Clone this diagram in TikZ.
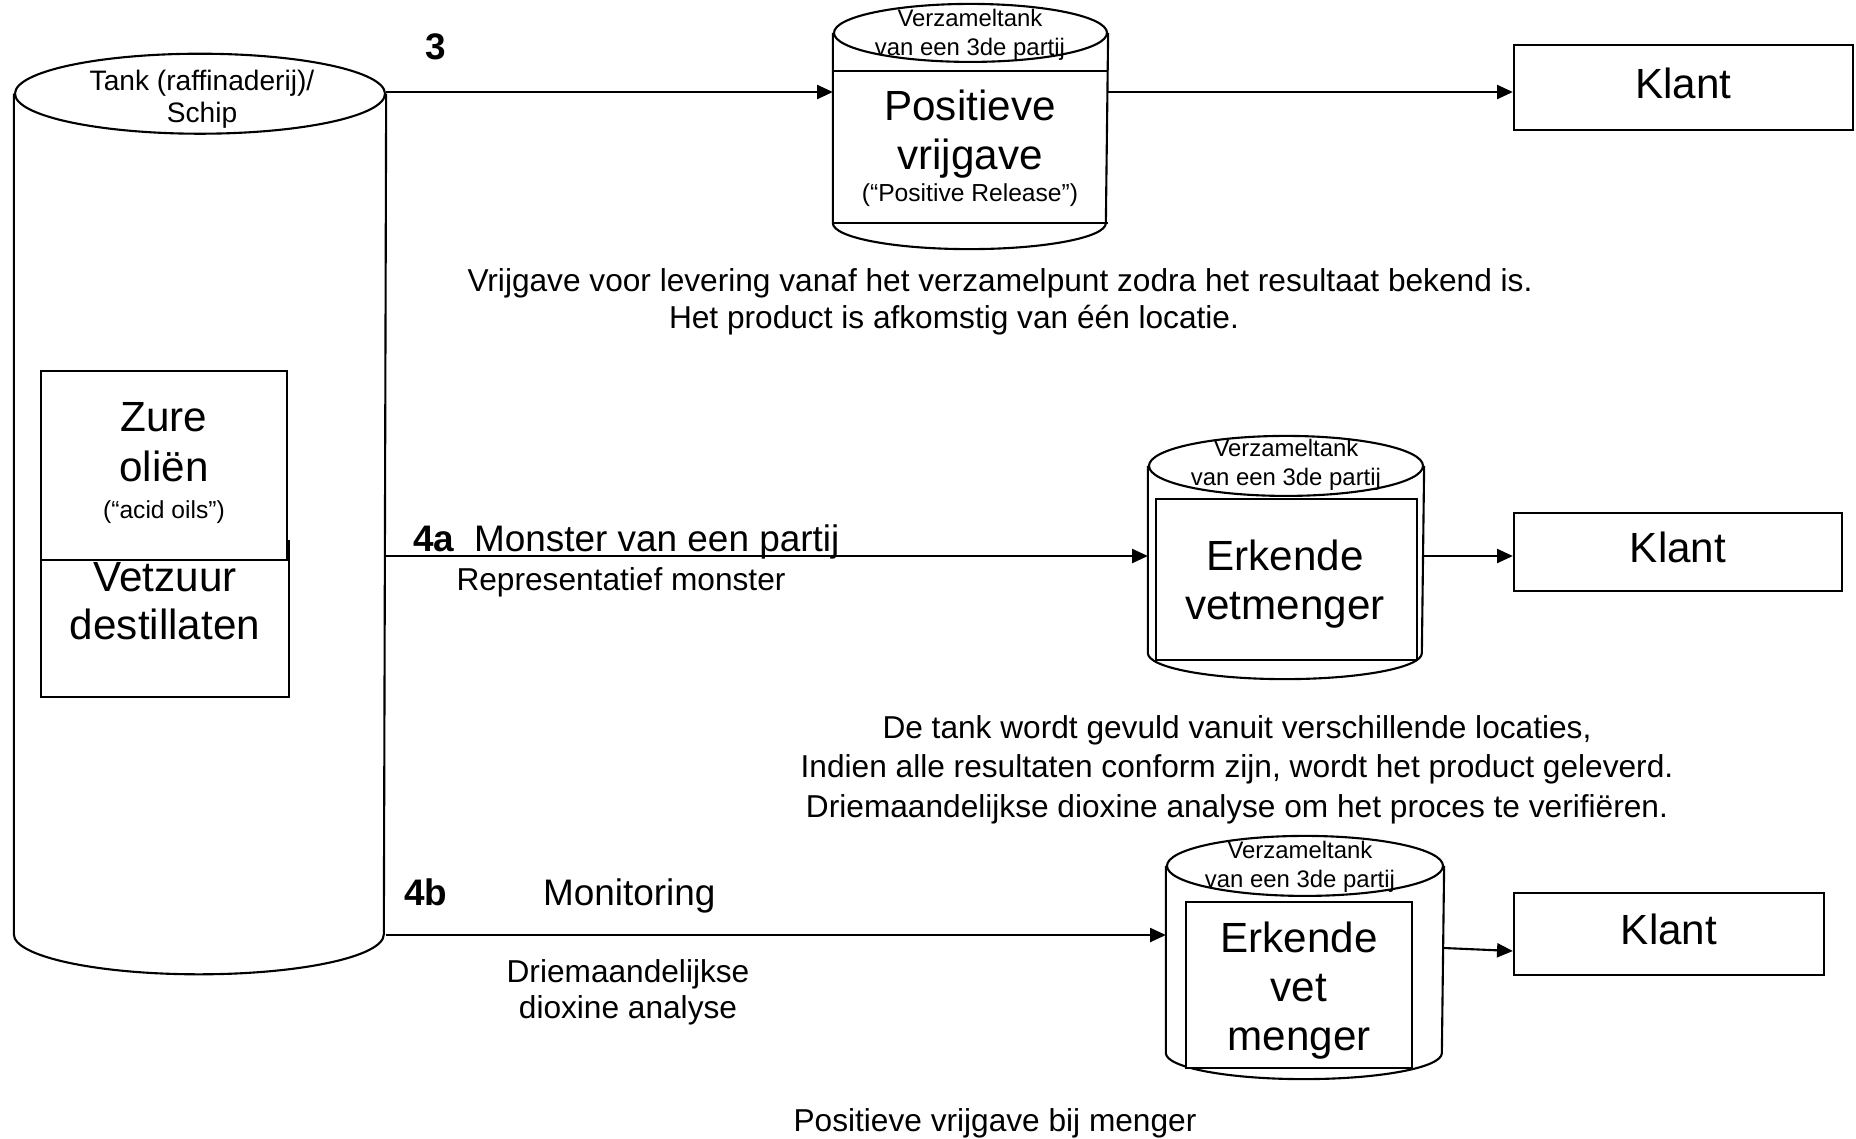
\documentclass[tikz,border=0pt]{standalone}
\usepackage{fontspec}
\setmainfont{Liberation Sans}
\usetikzlibrary{arrows.meta}

\tikzset{
  txt/.style={font=\fontsize{9}{10.5}\selectfont, inner sep=0pt, align=center},
  lidtxt/.style={font=\fontsize{6.8}{8}\selectfont, inner sep=0pt, align=center},
  bigtxt/.style={font=\fontsize{12}{13.8}\selectfont, inner sep=0pt, align=center},
  numtxt/.style={font=\fontsize{10.5}{12}\selectfont\bfseries, inner sep=0pt},
  klantbox/.style={draw, inner sep=0pt, text depth=2.7pt, font=\fontsize{12}{14}\selectfont},
  body/.style={inner sep=0pt},
  inbox/.style={draw, fill=white, inner sep=0pt},
}

\begin{document}
\begin{tikzpicture}[x=0.01cm, y=-0.01cm, line width=0.6pt, >={Triangle[length=4.5pt, width=4pt]}]
  \useasboundingbox (0,0) rectangle (1856,1138);

  % tank raffinaderij / schip
  \node[body, minimum width=3.7cm, minimum height=8.38cm] (tank) at (200,514) {};
  \draw (tank.north west) -- (tank.south west) arc[start angle=180, end angle=0, x radius=185, y radius=40] -- (tank.north east);
  \draw (tank.north) ellipse [x radius=185, y radius=40];
  \node[txt, font=\fontsize{8}{9.1}\selectfont, anchor=base] (tanklbl) at (202,122) {Tank (raffinaderij)/\\Schip};

  \node[inbox, minimum width=2.48cm, minimum height=1.56cm] (vetzuur) at (165,619) {};
  \node[bigtxt, font=\fontsize{12}{13.5}\selectfont, anchor=base] (vetzuurlbl) at (165,639) {Vetzuur\\destillaten};
  \node[inbox, minimum width=2.46cm, minimum height=1.89cm] (zure) at (164,465.5) {};
  \node[bigtxt, font=\fontsize{12}{14.1}\selectfont, anchor=base] (zurelbl) at (164,481) {Zure\\oliën};
  \node[txt, font=\fontsize{7}{8}\selectfont, anchor=base] (acidlbl) at (164,518) {(“acid oils”)};

  % verzameltank 3de partij - positieve vrijgave
  \node[body, minimum width=2.73cm, minimum height=1.88cm] (verz1) at (970.5,128) {};
  \draw (verz1.north west) -- (verz1.south west) arc[start angle=180, end angle=0, x radius=136.5, y radius=26] -- (verz1.north east);
  \draw (verz1.north) ellipse [x radius=136.5, y radius=29];
  \draw (verz1.west |- 0,71) -- (verz1.east |- 0,71);
  \draw (verz1.south west) -- (verz1.south east);
  \node[lidtxt, anchor=base] (verz1lbl) at (970,55) {Verzameltank\\van een 3de partij};
  \node[bigtxt, anchor=base] (poslbl) at (970,169) {Positieve\\vrijgave};
  \node[txt, font=\fontsize{7}{8}\selectfont, anchor=base] (releaselbl) at (970,201) {(“Positive Release”)};

  % verzameltank 3de partij - erkende vetmenger
  \node[body, minimum width=2.74cm, minimum height=1.85cm] (verz2) at (1286,559.5) {};
  \draw (verz2.north west) -- (verz2.south west) arc[start angle=180, end angle=0, x radius=137, y radius=26] -- (verz2.north east);
  \draw (verz2.north) ellipse [x radius=137, y radius=30];
  \node[inbox, minimum width=2.61cm, minimum height=1.61cm] (vetm) at (1286.5,579.5) {};
  \node[lidtxt, anchor=base] (verz2lbl) at (1286,485) {Verzameltank\\van een 3de partij};
  \node[bigtxt, anchor=base] (vetmlbl) at (1285,619) {Erkende\\vetmenger};

  % verzameltank 3de partij - erkende vet menger
  \node[body, minimum width=2.76cm, minimum height=1.85cm] (verz3) at (1305,959.5) {};
  \draw (verz3.north west) -- (verz3.south west) arc[start angle=180, end angle=0, x radius=138, y radius=26] -- (verz3.north east);
  \draw (verz3.north) ellipse [x radius=138, y radius=30];
  \node[inbox, minimum width=2.26cm, minimum height=1.66cm] (vetm2) at (1299,985) {};
  \node[lidtxt, anchor=base] (verz3lbl) at (1300,887) {Verzameltank\\van een 3de partij};
  \node[bigtxt, anchor=base] (vetm2lbl) at (1299,1050) {Erkende\\vet\\menger};

  % klanten
  \node[klantbox, minimum width=3.39cm, minimum height=0.85cm] (klant1) at (1683.5,87.5) {Klant};
  \node[klantbox, minimum width=3.28cm, minimum height=0.78cm] (klant2) at (1678,552) {Klant};
  \node[klantbox, minimum width=3.10cm, minimum height=0.82cm] (klant3) at (1669,934) {Klant};

  % pijlen
  \coordinate (uit3) at (tank.east |- 0,92);
  \coordinate (uit4a) at (tank.east |- 0,556);
  \coordinate (uit4b) at (tank.east |- 0,935);
  \draw[->] (uit3) -- (uit3 -| verz1.west);
  \draw[->] (uit3 -| verz1.east) -- (uit3 -| klant1.west);
  \draw[->] (uit4a) -- (uit4a -| verz2.west);
  \draw[->] (uit4a -| verz2.east) -- (uit4a -| klant2.west);
  \draw[->] (uit4b) -- (uit4b -| verz3.west);
  \draw[->] (verz3.east |- 0,948) -- (klant3.west |- 0,951);

  % teksten bij de pijlen
  \node[numtxt, anchor=base] (nr3) at (436,59) {3};
  \node[numtxt, anchor=base west] (nr4a) at (412,551) {4a};
  \node[txt, font=\fontsize{10.5}{12}\selectfont, anchor=base west] (monster) at (473,551) {Monster van een partij};
  \node[txt, anchor=base] (repr) at (621,590) {Representatief monster};
  \node[numtxt, anchor=base west] (nr4b) at (403,905) {4b};
  \node[txt, font=\fontsize{10.5}{12}\selectfont, anchor=base west] (monit) at (542,905) {Monitoring};
  \node[txt, font=\fontsize{9}{10.2}\selectfont, anchor=base] (driem) at (628,1018) {Driemaandelijkse\\dioxine analyse};

  \node[txt, anchor=base] (uitleg1a) at (1000,291) {Vrijgave voor levering vanaf het verzamelpunt zodra het resultaat bekend is.};
  \node[txt, anchor=base] (uitleg1b) at (954,328) {Het product is afkomstig van één locatie.};
  \node[txt, font=\fontsize{9}{11.2}\selectfont, anchor=base] (uitleg2) at (1237,817) {De tank wordt gevuld vanuit verschillende locaties,\\Indien alle resultaten conform zijn, wordt het product geleverd.\\Driemaandelijkse dioxine analyse om het proces te verifiëren.};
  \node[txt, anchor=base] (uitleg3) at (995,1131) {Positieve vrijgave bij menger};
\end{tikzpicture}
\end{document}
